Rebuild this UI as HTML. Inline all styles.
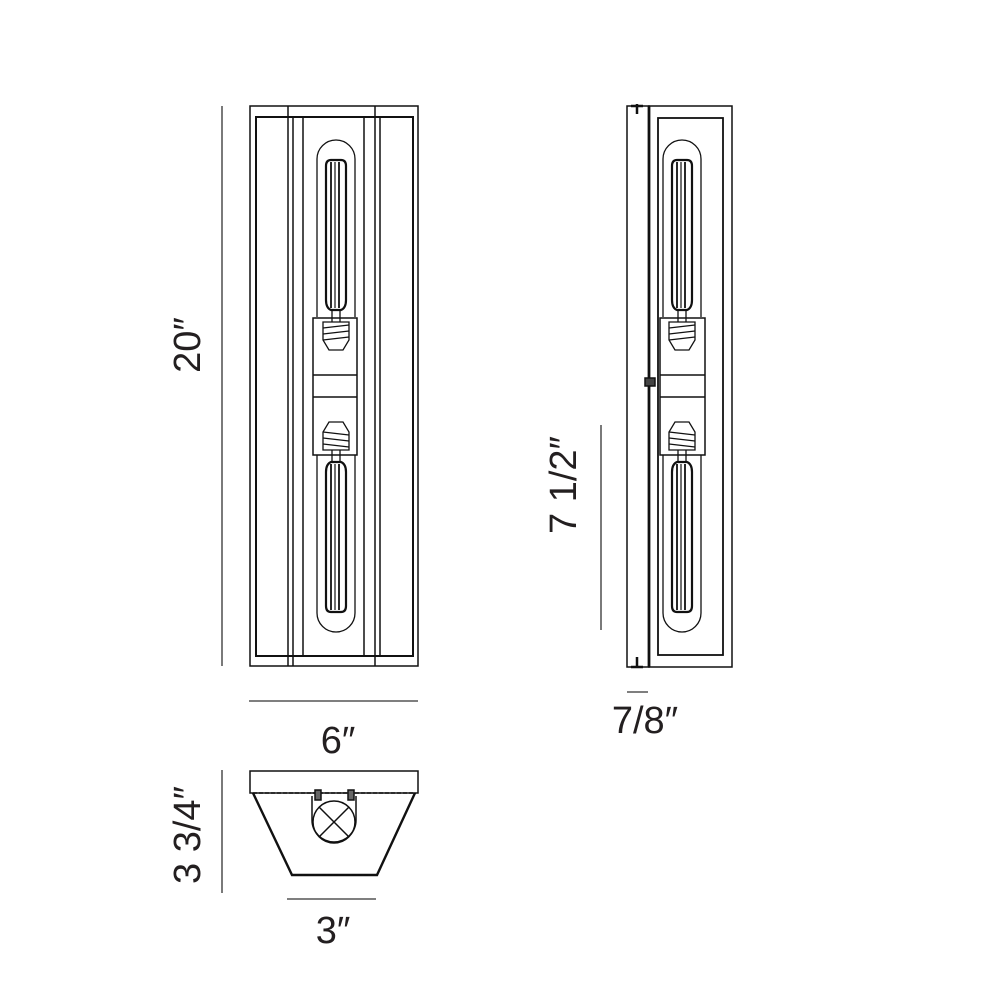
<!DOCTYPE html>
<html><head><meta charset="utf-8"><style>
html,body{margin:0;padding:0;background:#fff;width:1000px;height:1000px;overflow:hidden}
svg{display:block}
text{font-family:"Liberation Sans",sans-serif;fill:#231f20}
</style></head><body>
<svg width="1000" height="1000" viewBox="0 0 1000 1000" xmlns="http://www.w3.org/2000/svg">
<defs>
<g id="bulbF" fill="none" stroke="#111" stroke-width="1.3">
  <path d="M-19,177 L-19,19 A19,19 0 0 1 19,19 L19,177"/>
  <path d="M-10,160 L-10,26 Q-10,20 -5,20 L5,20 Q10,20 10,26 L10,160 Q10,168 5,170 L-5,170 Q-10,168 -10,160Z" stroke-width="2.2"/>
  <line x1="-5" y1="22" x2="-5" y2="168" stroke-width="1.8"/>
  <line x1="-1" y1="22" x2="-1" y2="168" stroke-width="1.2"/>
  <line x1="3" y1="22" x2="3" y2="168" stroke-width="1.8"/>
  <line x1="-4" y1="170" x2="-4" y2="182"/>
  <line x1="4" y1="170" x2="4" y2="182"/>
  <path d="M-13,182 L13,182 L13,200 L7,210 L-7,210 L-13,200Z"/>
  <line x1="-13" y1="188" x2="13" y2="185"/>
  <line x1="-13" y1="194" x2="13" y2="191"/>
  <line x1="-13" y1="200" x2="13" y2="197"/>
</g>
</defs>

<g fill="none" stroke="#111" stroke-width="1.5">
  <rect x="250" y="106" width="168" height="560"/>
  <rect x="256" y="117" width="157" height="539" stroke-width="2"/>
  <line x1="288" y1="106" x2="288" y2="666"/>
  <line x1="293" y1="117" x2="293" y2="666"/>
  <line x1="303" y1="117" x2="303" y2="656"/>
  <line x1="364" y1="117" x2="364" y2="656"/>
  <line x1="375" y1="106" x2="375" y2="666"/>
  <line x1="380" y1="117" x2="380" y2="656"/>
  <rect x="313" y="318" width="44" height="137"/>
  <line x1="313" y1="375" x2="357" y2="375"/>
  <line x1="313" y1="397" x2="357" y2="397"/>
</g>
<use href="#bulbF" transform="translate(336,140)"/>
<use href="#bulbF" transform="translate(336,632) scale(1,-1)"/>

<g fill="none" stroke="#111" stroke-width="1.5">
  <rect x="627" y="106" width="22" height="561"/>
  <line x1="649" y1="106" x2="649" y2="667" stroke-width="2.8"/>
  <rect x="649" y="106" width="83" height="561"/>
  <rect x="658" y="118" width="65" height="537" stroke-width="1.8"/>
  <rect x="660" y="318" width="45" height="137"/>
  <line x1="660" y1="375" x2="705" y2="375"/>
  <line x1="660" y1="397" x2="705" y2="397"/>
  <rect x="645" y="378" width="10" height="8" fill="#444"/>
  <path d="M631,106 h12 M637,104 v10 M631,667 h12 M637,657 v10" stroke-width="2.5"/>
</g>
<use href="#bulbF" transform="translate(682,140)"/>
<use href="#bulbF" transform="translate(682,632) scale(1,-1)"/>

<g fill="none" stroke="#111" stroke-width="1.5">
  <rect x="250" y="771" width="168" height="22"/>
  <path d="M253,793 L292,875 L377,875 L415,793" stroke-width="2.4"/>
  <line x1="253" y1="793" x2="415" y2="793" stroke-dasharray="4,2"/>
  <line x1="292" y1="875" x2="377" y2="875" stroke-dasharray="4,2"/>
  <path d="M312,796 L312,820 A22,22 0 0 0 356,820 L356,796"/>
  <circle cx="334" cy="822" r="21"/>
  <line x1="319" y1="807" x2="349" y2="837"/>
  <line x1="349" y1="807" x2="319" y2="837"/>
  <rect x="315" y="790" width="6" height="10" fill="#666"/>
  <rect x="348" y="790" width="6" height="10" fill="#666"/>
</g>

<g stroke="#333" stroke-width="1.3">
  <line x1="222" y1="106" x2="222" y2="666"/>
  <line x1="249" y1="701" x2="418" y2="701"/>
  <line x1="601" y1="425" x2="601" y2="630"/>
  <line x1="627" y1="692" x2="648" y2="692"/>
  <line x1="222" y1="770" x2="222" y2="893"/>
  <line x1="287" y1="899" x2="376" y2="899"/>
</g>
<text font-size="38" text-anchor="middle" transform="translate(200,345) rotate(-90)">20″</text>
<text x="338" y="753" font-size="38" text-anchor="middle">6″</text>
<text font-size="38" text-anchor="middle" transform="translate(576,485) rotate(-90)">7 1/2″</text>
<text x="645" y="733" font-size="38" text-anchor="middle">7/8″</text>
<text font-size="38" text-anchor="middle" transform="translate(200,835) rotate(-90)">3 3/4″</text>
<text x="333" y="943" font-size="38" text-anchor="middle">3″</text>
</svg>
</body></html>
